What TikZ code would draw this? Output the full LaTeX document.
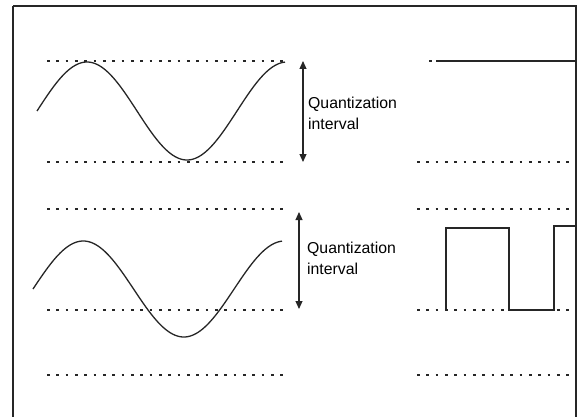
\documentclass[tikz,border=0pt]{standalone}
\usepackage{fontspec}
\setmainfont{Liberation Sans}
\usetikzlibrary{arrows.meta}
\tikzset{
  dotline/.style={line width=1.2pt, dash pattern=on 2.6pt off 6.73pt, black!85},
  wave/.style={line width=1.3pt, black!85},
  frameline/.style={line width=2pt, black!85},
  qarrow/.style={line width=1.1pt, black!85, {Triangle[length=8pt,width=7pt]}-{Triangle[length=8pt,width=7pt]}},
  qlabel/.style={anchor=west, align=left, inner sep=0pt, font=\fontsize{15.8}{21}\selectfont}
}
\begin{document}
\begin{tikzpicture}[x=1pt,y=-1pt]
    \useasboundingbox (0,0) rectangle (578,417);
    % Draw frame, open at the bottom
    \draw[frameline, line width=2.8pt] (13,417) -- (13,6);
    \draw[frameline] (13,6) -- (576,6) -- (576,417);
    % Draw dotted levels in both panels
    \foreach \y in {61,162,209,310,375} {
        \draw[dotline] (47,\y) -- (286,\y);
    }
    \draw[dotline] (429,61) -- (436,61);
    \foreach \y in {162,209,310,375} {
        \draw[dotline] (417,\y) -- (576,\y);
    }
    % Draw the two sine waves
    \draw[wave] plot[domain=37:285, samples=120] (\x, {111-49*sin((\x-37)*1.8)});
    \draw[wave] plot[domain=33:282, samples=120] (\x, {289-48*sin((\x-33)*1.79)});
    % Quantization intervals
    \coordinate (t1) at (303,61);
    \coordinate (b1) at (303,162);
    \coordinate (t2) at (299,212);
    \coordinate (b2) at (299,309);
    \draw[qarrow] (t1) -- (b1);
    \draw[qarrow] (t2) -- (b2);
    \node[qlabel] (q1) at (308,113) {Quantization\\interval};
    \node[qlabel] (q2) at (307,258) {Quantization\\interval};
    % Draw the output signals on the right
    \draw[wave] (436,61) -- (576,61);
    \draw[wave] (446,310) -- (446,228) -- (509,228) -- (509,310) -- (554,310) -- (554,226) -- (576,226);
\end{tikzpicture}
\end{document}
